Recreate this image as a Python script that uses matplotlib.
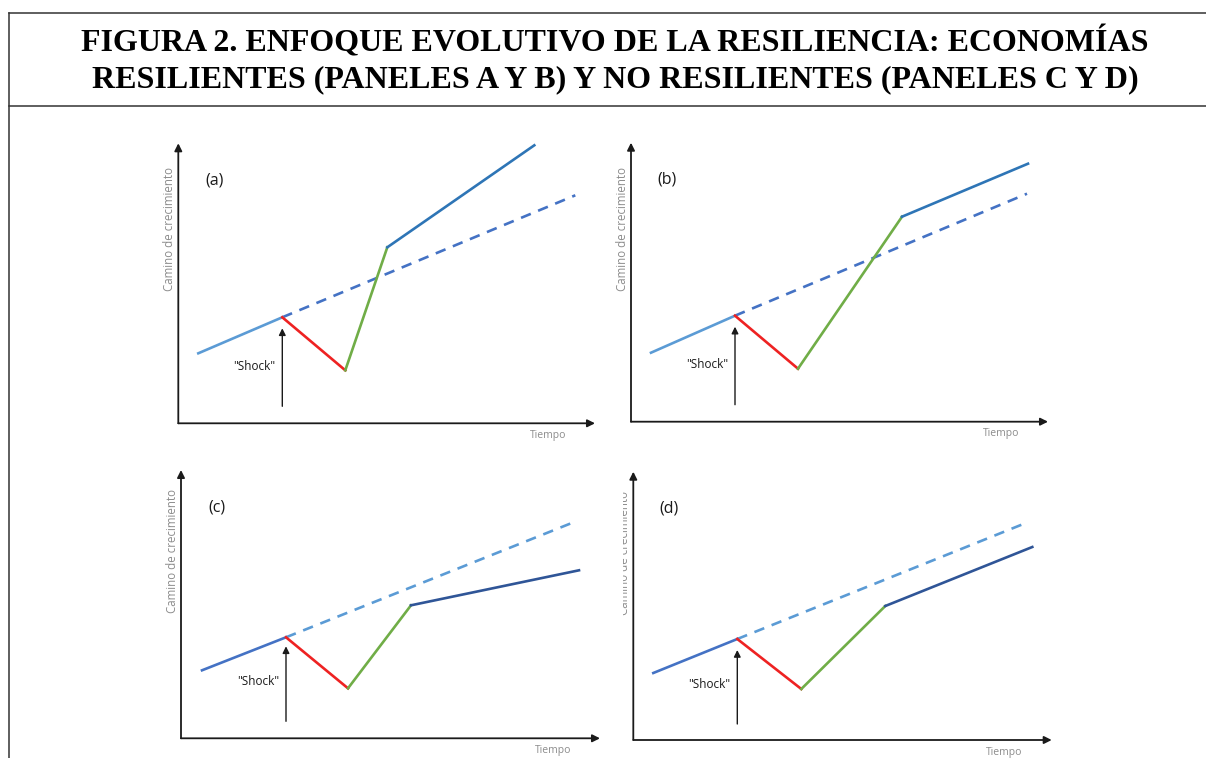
## evolutionary approach to resilience - 4 panel sketch
import matplotlib.pyplot as plt
from matplotlib.transforms import Bbox

W, H = 1206, 758

# panels: path points (time, growth) in axis units, one array per panel
t_a = [20, 104, 167, 209, 356]
g_a = [70, 106, 53, 176, 278]
trend_a = [(104, 397), (106, 228)]

t_b = [20, 104, 167, 271, 397]
g_b = [69, 106, 53, 205, 258]
trend_b = [(104, 396), (106, 228)]

t_c = [21, 105, 167, 230, 398]
g_c = [68, 101, 50, 133, 168]
trend_c = [(105, 395), (101, 217)]

t_d = [20, 104, 168, 252, 399]
g_d = [67, 101, 51, 134, 193]
trend_d = [(104, 395), (101, 218)]

shock_y = [(17, 95), (17, 95), (17, 92), (16, 90)]
labels = ['(a)', '(b)', '(c)', '(d)']

# origin x, origin y, x length, y length (pixels)
boxes = [(178.3, 423.3, 416.7, 280), (631, 421.7, 417, 279),
         (181, 738.3, 419, 268.3), (633.3, 740, 418.4, 268.3)]

pal_ab = dict(pre='#5B9BD5', trend='#4472C4', post='#2E75B6')
pal_cd = dict(pre='#4472C4', trend='#5B9BD5', post='#2F5597')
RED, GREEN, GREY = '#EE2222', '#70AD47', '#8C8C8C'

fig = plt.figure(figsize=(W/100, H/100), dpi=100, facecolor='w')

# frame of the figure box
frame = fig.add_axes([0, 0, 1, 1])
frame.set_xlim(0, W); frame.set_ylim(H, 0); frame.axis('off')
frame.plot([9, W], [13, 13], color='#333333', lw=1.1)
frame.plot([9, W], [106, 106], color='#333333', lw=1.1)
frame.plot([9, 9], [13, H], color='#333333', lw=1.1)
frame.text(615, 42, 'FIGURA 2. ENFOQUE EVOLUTIVO DE LA RESILIENCIA: ECONOMÍAS',
           ha='center', va='center', family='Liberation Serif', weight='bold', fontsize=23)
frame.text(615, 80, 'RESILIENTES (PANELES A Y B) Y NO RESILIENTES (PANELES C Y D)',
           ha='center', va='center', family='Liberation Serif', weight='bold', fontsize=23)

panels = [(t_a, g_a, trend_a, pal_ab), (t_b, g_b, trend_b, pal_ab),
          (t_c, g_c, trend_c, pal_cd), (t_d, g_d, trend_d, pal_cd)]

for i in range(4):
    t, g, trend, pal = panels[i]
    x0, y0, xl, yl = boxes[i]
    ax = fig.add_axes([x0/W, 1 - y0/H, xl/W, yl/H])
    ax.set_xlim(0, xl); ax.set_ylim(0, yl)
    ax.axis('off')

    # axes with arrow heads
    ap = dict(arrowstyle='-|>', lw=1.3, color='#1a1a1a', mutation_scale=11, shrinkA=0, shrinkB=0)
    ax.annotate('', xy=(xl, 0), xytext=(0, 0), arrowprops=ap, annotation_clip=False)
    ax.annotate('', xy=(0, yl), xytext=(0, 0), arrowprops=ap, annotation_clip=False)

    # trend (no shock)
    ax.plot(trend[0], trend[1], color=pal['trend'], lw=1.9, dashes=(4, 3), clip_on=False)
    ax.plot(t[0:2], g[0:2], color=pal['pre'], lw=1.9, clip_on=False)
    ax.plot(t[1:3], g[1:3], color=RED, lw=1.9, clip_on=False)
    ax.plot(t[2:4], g[2:4], color=GREEN, lw=1.9, clip_on=False)
    ax.plot(t[3:5], g[3:5], color=pal['post'], lw=1.9, clip_on=False)

    # shock arrow
    sy = shock_y[i]
    ax.annotate('', xy=(t[1], sy[1]), xytext=(t[1], sy[0]),
                arrowprops=dict(arrowstyle='-|>', lw=1.0, color='#1a1a1a', mutation_scale=10,
                                shrinkA=0, shrinkB=0), annotation_clip=False)
    ax.text(t[1] - 28, sy[0] + 40, '"Shock"', ha='center', va='center',
            family='Open Sans', fontsize=8.5, color='#1a1a1a')

    ax.text(36, yl - 37, labels[i], ha='center', va='center', family='Open Sans',
            fontsize=11.5, color='#1a1a1a')
    ax.text(xl - 47, -12, 'Tiempo', ha='center', va='center', family='Open Sans',
            fontsize=7.5, color=GREY, clip_on=False)
    yt = ax.text(-9, yl - 86 if i < 2 else yl - 81, 'Camino de crecimiento', rotation=90,
                 ha='center', va='center', family='Open Sans', fontsize=8.3, color=GREY)
    if i == 3:
        # label is cut on its left side in panel d
        yt.set_clip_box(Bbox.from_extents(623, 0, W, H))
        yt.set_clip_on(True)

fig.savefig('out.png', dpi=100, facecolor='w')
